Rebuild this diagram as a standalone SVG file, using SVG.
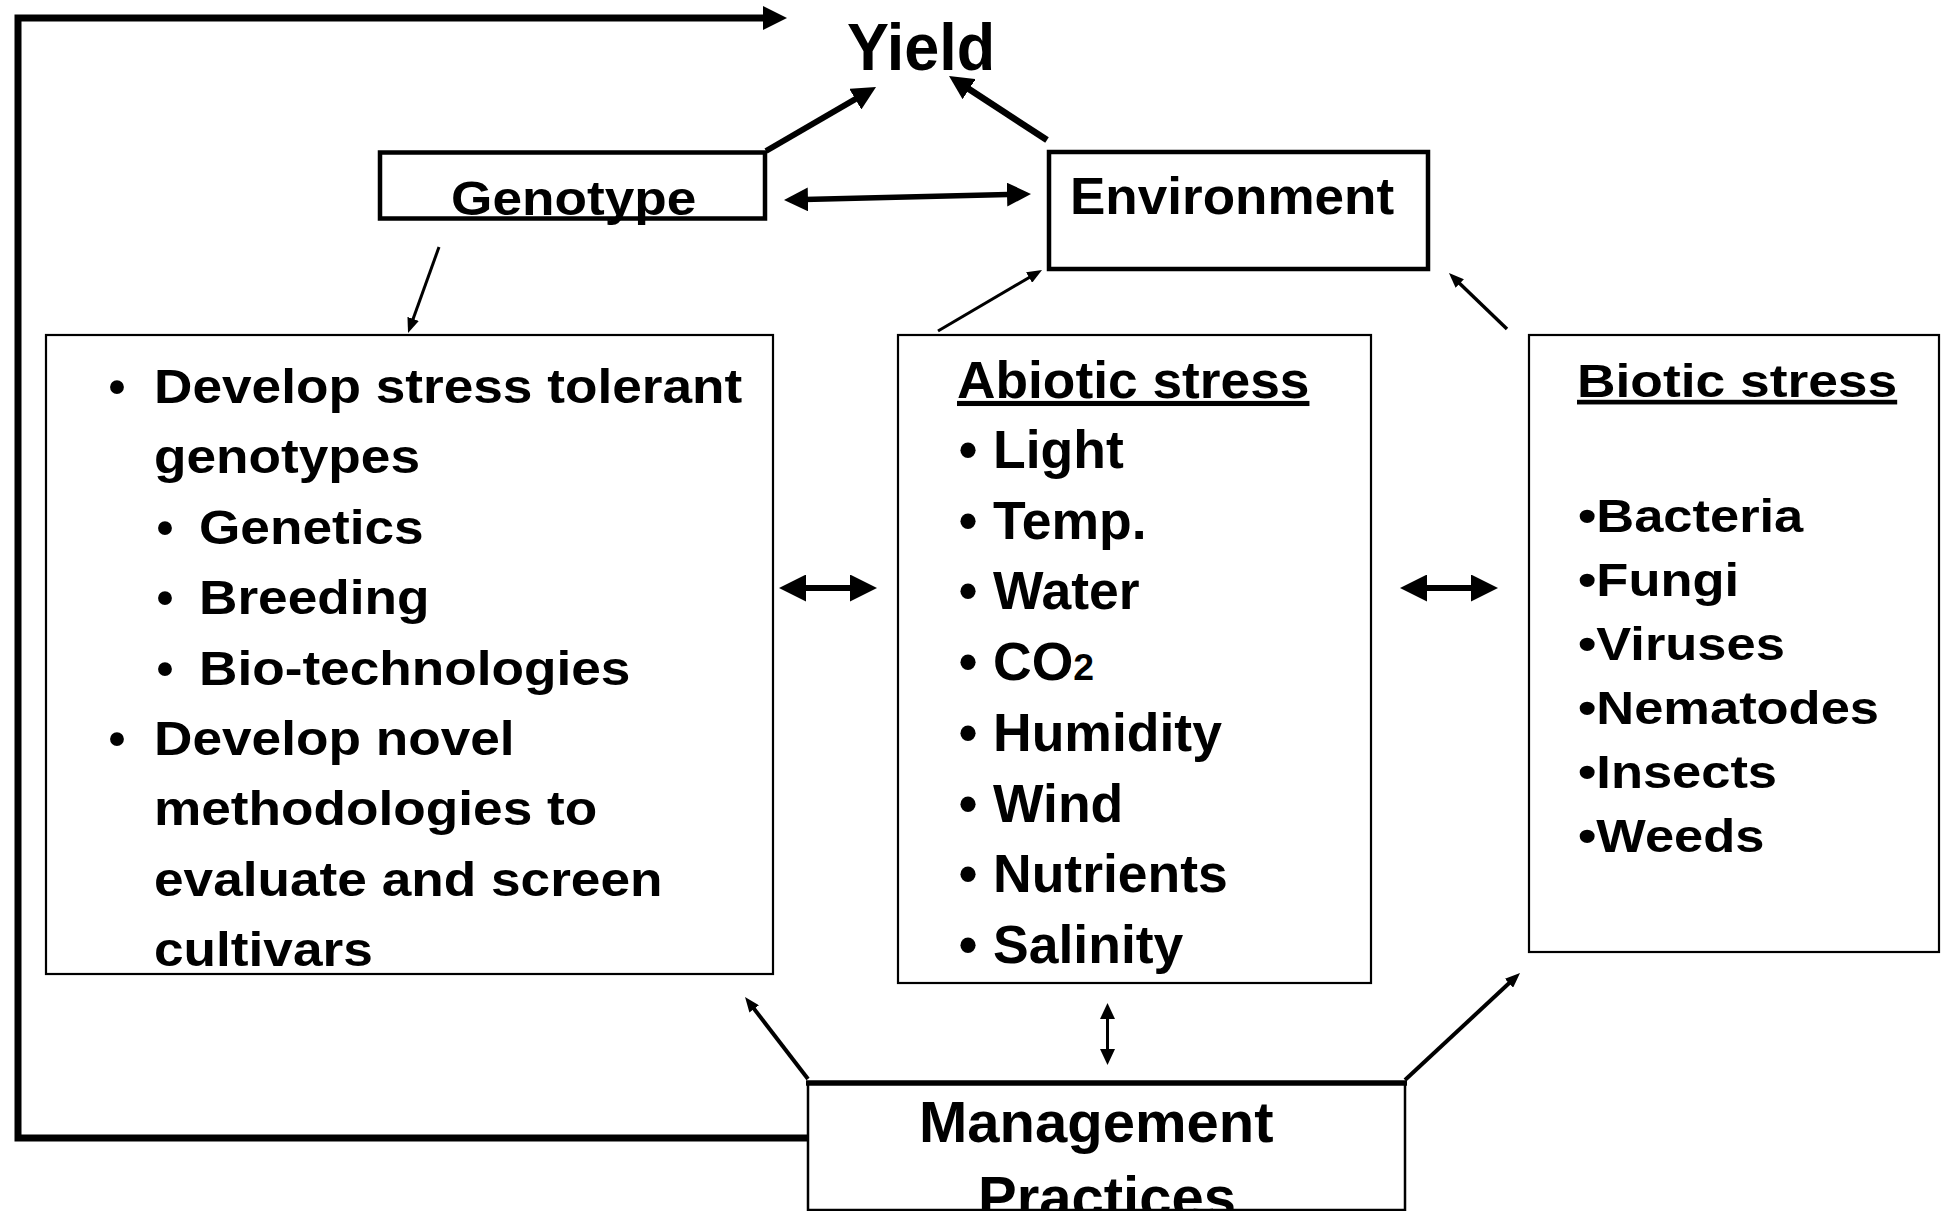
<svg xmlns="http://www.w3.org/2000/svg" width="1948" height="1211" viewBox="0 0 1948 1211">
<style>
  text { font-family: "Liberation Sans", Arial, sans-serif; font-weight: bold; fill: #000; }
  .box { fill: #fff; stroke: #000; }
  .thin { stroke-width: 2.2; }
  .thick { stroke-width: 4.5; }
  .conn { fill: none; stroke: #000; stroke-linecap: butt; stroke-linejoin: miter; }
  .lb { font-size: 48.5px; }
  .ab { font-size: 53px; }
  .bi { font-size: 46.2px; }
  .bul { text-anchor: middle; }
</style>
<defs>
  <marker id="mL" markerUnits="userSpaceOnUse" viewBox="0 0 24 24" markerWidth="24" markerHeight="24" refX="14" refY="12" orient="auto-start-reverse">
    <path d="M0,0 L24,12 L0,24 z" fill="#000"/>
  </marker>
  <marker id="mM" markerUnits="userSpaceOnUse" viewBox="0 0 27 27" markerWidth="27" markerHeight="27" refX="17" refY="13.5" orient="auto-start-reverse">
    <path d="M0,0 L27,13.5 L0,27 z" fill="#000"/>
  </marker>
  <marker id="mS" markerUnits="userSpaceOnUse" viewBox="0 0 15 12" markerWidth="15" markerHeight="12" refX="8" refY="6" orient="auto-start-reverse">
    <path d="M0,0 L15,6 L0,12 z" fill="#000"/>
  </marker>
  <marker id="mV" markerUnits="userSpaceOnUse" viewBox="0 0 16 15" markerWidth="16" markerHeight="15" refX="9" refY="7.5" orient="auto-start-reverse">
    <path d="M0,0 L16,7.5 L0,15 z" fill="#000"/>
  </marker>
</defs>

<g id="yield">
  <text transform="translate(847,70) scale(0.94,1)" font-size="67">Yield</text>
</g>

<g id="genotype">
  <rect class="box thick" x="380" y="152.5" width="385" height="66"/>
  <text transform="translate(451,215) scale(1.125,1)" font-size="47.3">Genotype</text>
</g>

<g id="environment">
  <rect class="box thick" x="1049" y="152" width="379" height="117"/>
  <text transform="translate(1070,214) scale(1.02,1)" font-size="52">Environment</text>
</g>

<g id="strategies">
  <rect class="box thin" x="46" y="335" width="727" height="639"/>
  <text class="lb bul" x="117" y="403">•</text>
  <text class="lb" transform="translate(154,403) scale(1.097,1)">Develop stress tolerant</text>
  <text class="lb" transform="translate(154,473.4) scale(1.097,1)">genotypes</text>
  <text class="lb bul" x="165" y="543.8">•</text>
  <text class="lb" transform="translate(199,543.8) scale(1.097,1)">Genetics</text>
  <text class="lb bul" x="165" y="614.2">•</text>
  <text class="lb" transform="translate(199,614.2) scale(1.097,1)">Breeding</text>
  <text class="lb bul" x="165" y="684.6">•</text>
  <text class="lb" transform="translate(199,684.6) scale(1.097,1)">Bio-technologies</text>
  <text class="lb bul" x="117" y="755">•</text>
  <text class="lb" transform="translate(154,755) scale(1.097,1)">Develop novel</text>
  <text class="lb" transform="translate(154,825.4) scale(1.097,1)">methodologies to</text>
  <text class="lb" transform="translate(154,895.8) scale(1.097,1)">evaluate and screen</text>
  <text class="lb" transform="translate(154,966.2) scale(1.097,1)">cultivars</text>
</g>

<g id="abiotic">
  <rect class="box thin" x="898" y="335" width="473" height="648"/>
  <text transform="translate(957,398) scale(1.045,1)" font-size="51" text-decoration="underline">Abiotic stress</text>
  <text class="ab bul" x="968" y="468">•</text>
  <text class="ab" transform="translate(993,468) scale(1.01,1)">Light</text>
  <text class="ab bul" x="968" y="538.7">•</text>
  <text class="ab" transform="translate(993,538.7) scale(1.01,1)">Temp.</text>
  <text class="ab bul" x="968" y="609.4">•</text>
  <text class="ab" transform="translate(993,609.4) scale(1.01,1)">Water</text>
  <text class="ab bul" x="968" y="680.1">•</text>
  <text class="ab" transform="translate(993,680.1) scale(1.01,1)">CO<tspan font-size="37">2</tspan></text>
  <text class="ab bul" x="968" y="750.8">•</text>
  <text class="ab" transform="translate(993,750.8) scale(1.01,1)">Humidity</text>
  <text class="ab bul" x="968" y="821.5">•</text>
  <text class="ab" transform="translate(993,821.5) scale(1.01,1)">Wind</text>
  <text class="ab bul" x="968" y="892.2">•</text>
  <text class="ab" transform="translate(993,892.2) scale(1.01,1)">Nutrients</text>
  <text class="ab bul" x="968" y="962.9">•</text>
  <text class="ab" transform="translate(993,962.9) scale(1.01,1)">Salinity</text>
</g>

<g id="biotic">
  <rect class="box thin" x="1529" y="335" width="410" height="617"/>
  <text transform="translate(1577,397) scale(1.145,1)" font-size="46.6" text-decoration="underline">Biotic stress</text>
  <text class="bi" transform="translate(1578,532) scale(1.135,1)">•Bacteria</text>
  <text class="bi" transform="translate(1578,596) scale(1.135,1)">•Fungi</text>
  <text class="bi" transform="translate(1578,660) scale(1.135,1)">•Viruses</text>
  <text class="bi" transform="translate(1578,724) scale(1.135,1)">•Nematodes</text>
  <text class="bi" transform="translate(1578,788) scale(1.135,1)">•Insects</text>
  <text class="bi" transform="translate(1578,852) scale(1.135,1)">•Weeds</text>
</g>

<g id="management">
  <rect class="box" stroke-width="2.5" x="808" y="1083" width="597" height="127"/>
  <line x1="806" y1="1083" x2="1407" y2="1083" stroke="#000" stroke-width="5.5"/>
  <text transform="translate(919,1142)" font-size="58">Management</text>
  <text transform="translate(978,1217)" font-size="58">Practices</text>
</g>

<g id="connectors" class="conn">
  <path d="M808,1138 H18 V18 H777" stroke="#000" stroke-width="7" fill="none" marker-end="url(#mL)"/>
  <line x1="766" y1="151" x2="867.4" y2="92.1" stroke-width="6" marker-end="url(#mL)"/>
  <line x1="1047" y1="140" x2="957.4" y2="81.5" stroke-width="6.5" marker-end="url(#mL)"/>
  <line x1="794" y1="199.8" x2="1021" y2="194.2" stroke-width="5.5" marker-start="url(#mL)" marker-end="url(#mL)"/>
  <line x1="789" y1="588" x2="867" y2="588" stroke-width="6" marker-start="url(#mM)" marker-end="url(#mM)"/>
  <line x1="1410" y1="588" x2="1488" y2="588" stroke-width="6" marker-start="url(#mM)" marker-end="url(#mM)"/>
  <line x1="439" y1="247" x2="410.4" y2="326.4" stroke-width="3" marker-end="url(#mS)"/>
  <line x1="938" y1="331" x2="1036" y2="273.5" stroke-width="3" marker-end="url(#mS)"/>
  <line x1="1507" y1="329" x2="1454" y2="277.9" stroke-width="3.5" marker-end="url(#mS)"/>
  <line x1="808" y1="1079" x2="749.3" y2="1002.6" stroke-width="4" marker-end="url(#mS)"/>
  <line x1="1107.5" y1="1010" x2="1107.5" y2="1058" stroke-width="3" marker-start="url(#mV)" marker-end="url(#mV)"/>
  <line x1="1405" y1="1080" x2="1514.9" y2="977.8" stroke-width="4" marker-end="url(#mS)"/>
</g>
</svg>
